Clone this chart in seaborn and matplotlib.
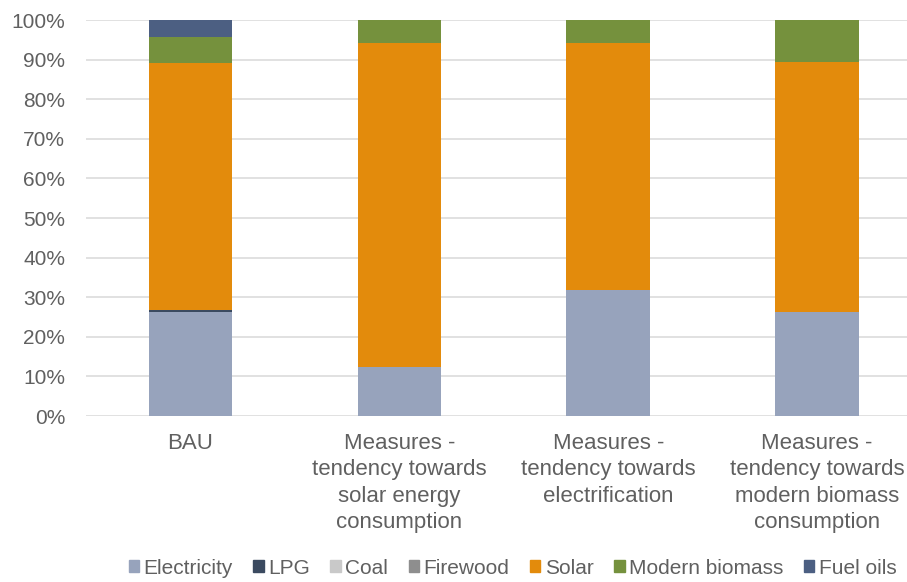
#!/usr/bin/env python

import matplotlib
matplotlib.use("Agg")
import matplotlib.pyplot as plt
import matplotlib.patches as mpatches
import numpy as np
import pandas as pd
import seaborn as sns

scenarios = ["BAU",
             "Measures -\ntendency towards\nsolar energy\nconsumption",
             "Measures -\ntendency towards\nelectrification",
             "Measures -\ntendency towards\nmodern biomass\nconsumption"]

fuels = ["Electricity", "LPG", "Coal", "Firewood", "Solar", "Modern biomass", "Fuel oils"]

# shares in %, one list per fuel, in scenario order
electricity = [26.3, 12.5, 31.7, 26.2]
lpg = [0.5, 0.0, 0.0, 0.0]
coal = [0.0, 0.0, 0.0, 0.0]
firewood = [0.0, 0.0, 0.0, 0.0]
solar = [62.4, 81.8, 62.6, 63.2]
modern_biomass = [6.4, 5.7, 5.7, 10.6]
fuel_oils = [4.4, 0.0, 0.0, 0.0]

colors = ["#97A3BC", "#3B4A60", "#C9C9C9", "#8E8E8E", "#E38B0C", "#75913D", "#4C5F82"]

df = pd.DataFrame({"scenario": scenarios,
                   "Electricity": electricity, "LPG": lpg, "Coal": coal,
                   "Firewood": firewood, "Solar": solar,
                   "Modern biomass": modern_biomass, "Fuel oils": fuel_oils})

txt = "#606060"
plt.rcParams["font.family"] = ["Liberation Sans", "DejaVu Sans"]
plt.rcParams["font.size"] = 15

fig = plt.figure(figsize=(9.07, 5.82), dpi=100)
ax = fig.add_axes([86 / 907, 1 - 416 / 582, 1 - 86 / 907, (416 - 20) / 582])

# stacked bars: draw cumulative totals, top layer first
cum = df[fuels].cumsum(axis=1)
for f, c in reversed(list(zip(fuels, colors))):
    sns.barplot(x=df["scenario"], y=cum[f], color=c, width=0.4,
                linewidth=0, saturation=1, ax=ax, zorder=3)

ax.set_ylim(0, 100)
ax.set_xlim(-0.5, 3.43)
ax.set_yticks(np.arange(0, 101, 10))
ax.set_yticklabels([str(v) + "%" for v in range(0, 101, 10)])
ax.grid(axis="y", color="#D9D9D9", linewidth=1.1, zorder=0)
ax.set_axisbelow(True)
for s in ax.spines.values():
    s.set_visible(False)
ax.tick_params(axis="both", length=0, colors=txt)
ax.tick_params(axis="y", pad=15, labelsize=15)
ax.tick_params(axis="x", pad=12, labelsize=16)
for lab in ax.get_xticklabels():
    lab.set_linespacing(1.35)
ax.set_xlabel("")
ax.set_ylabel("")

handles = [mpatches.Patch(color=c, label=f) for f, c in zip(fuels, colors)]
fig.legend(handles=handles, loc="center", bbox_to_anchor=(0.565, 1 - 568 / 582),
           ncol=7, frameon=False, fontsize=15, labelcolor=txt,
           handlelength=0.5, handleheight=0.5, handletextpad=0.2, columnspacing=1.0)

fig.savefig("out.png", dpi=100)
